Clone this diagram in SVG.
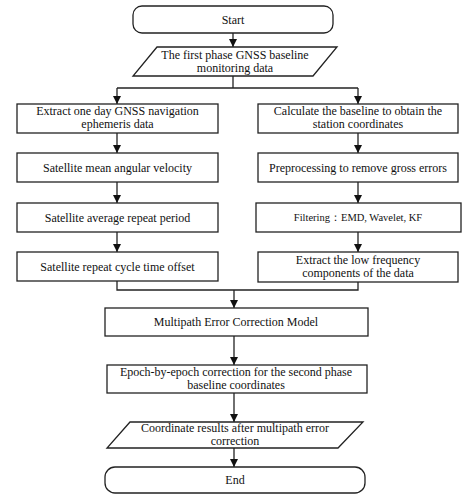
<svg xmlns="http://www.w3.org/2000/svg" width="475" height="500" viewBox="0 0 475 500">
<style>
.b{fill:#fff;stroke:#222;stroke-width:1.3}
.t{font-family:"Liberation Serif","Times New Roman",serif;font-size:12px;fill:#111;text-anchor:middle}
.c{fill:none;stroke:#222;stroke-width:1.3}
</style>
<defs>
<marker id="ah" markerUnits="userSpaceOnUse" markerWidth="8" markerHeight="8" viewBox="0 0 8 8" refX="8" refY="4" orient="auto">
<path d="M0,0 L8,4 L0,8 z" fill="#111"/>
</marker>
</defs>
<rect width="475" height="500" fill="#fff"/>
<g id="connectors">
<line class="c" x1="233" y1="33" x2="233" y2="47" marker-end="url(#ah)"/>
<polyline class="c" points="233,76 233,88"/>
<polyline class="c" points="117,88 358,88"/>
<line class="c" x1="117" y1="88" x2="117" y2="104" marker-end="url(#ah)"/>
<line class="c" x1="358" y1="88" x2="358" y2="104" marker-end="url(#ah)"/>
<line class="c" x1="117" y1="133" x2="117" y2="153" marker-end="url(#ah)"/>
<line class="c" x1="117" y1="182" x2="117" y2="203" marker-end="url(#ah)"/>
<line class="c" x1="117" y1="232" x2="117" y2="252" marker-end="url(#ah)"/>
<line class="c" x1="358" y1="133" x2="358" y2="153" marker-end="url(#ah)"/>
<line class="c" x1="358" y1="182" x2="358" y2="203" marker-end="url(#ah)"/>
<line class="c" x1="358" y1="232" x2="358" y2="252" marker-end="url(#ah)"/>
<polyline class="c" points="117,281 117,290 358,290 358,282"/>
<line class="c" x1="234" y1="290" x2="234" y2="308" marker-end="url(#ah)"/>
<line class="c" x1="234" y1="336" x2="234" y2="365" marker-end="url(#ah)"/>
<line class="c" x1="234" y1="393" x2="234" y2="422" marker-end="url(#ah)"/>
<line class="c" x1="234" y1="448" x2="234" y2="467" marker-end="url(#ah)"/>
</g>
<g id="start">
<rect class="b" x="133" y="6" width="200" height="27" rx="9"/>
<text class="t" x="233" y="23.5">Start</text>
</g>
<g id="input1">
<polygon class="b" points="157,47 337,47 313,76 133,76"/>
<text class="t" x="235" y="59">The first phase GNSS baseline</text>
<text class="t" x="235" y="72">monitoring data</text>
</g>
<g id="l1">
<rect class="b" x="17" y="104" width="201" height="29"/>
<text class="t" x="117.5" y="115">Extract one day GNSS navigation</text>
<text class="t" x="117.5" y="128">ephemeris data</text>
</g>
<g id="l2">
<rect class="b" x="17" y="153" width="201" height="29"/>
<text class="t" x="117.5" y="171.5">Satellite mean angular velocity</text>
</g>
<g id="l3">
<rect class="b" x="17" y="203" width="201" height="29"/>
<text class="t" x="117.5" y="221.5">Satellite average repeat period</text>
</g>
<g id="l4">
<rect class="b" x="17" y="252" width="201" height="29"/>
<text class="t" x="117.5" y="270.5">Satellite repeat cycle time offset</text>
</g>
<g id="r1">
<rect class="b" x="258" y="104" width="200" height="29"/>
<text class="t" x="358" y="115">Calculate the baseline to obtain the</text>
<text class="t" x="358" y="128">station coordinates</text>
</g>
<g id="r2">
<rect class="b" x="258" y="153" width="200" height="29"/>
<text class="t" x="358" y="171.5">Preprocessing to remove gross errors</text>
</g>
<g id="r3">
<rect class="b" x="256" y="203" width="205" height="29"/>
<text class="t" x="358" y="221" style="font-size:10.5px">Filtering：EMD, Wavelet, KF</text>
</g>
<g id="r4">
<rect class="b" x="258" y="252" width="200" height="30"/>
<text class="t" x="358" y="264">Extract the low frequency</text>
<text class="t" x="358" y="277">components of the data</text>
</g>
<g id="model">
<rect class="b" x="105" y="308" width="263" height="28"/>
<text class="t" x="236" y="326">Multipath Error Correction Model</text>
</g>
<g id="epoch">
<rect class="b" x="107" y="365" width="260" height="28"/>
<text class="t" x="236" y="376">Epoch-by-epoch correction for the second phase</text>
<text class="t" x="236" y="389">baseline coordinates</text>
</g>
<g id="output">
<polygon class="b" points="130,422 363,422 338,448 107,448"/>
<text class="t" x="235" y="432">Coordinate results after multipath error</text>
<text class="t" x="235" y="445">correction</text>
</g>
<g id="end">
<rect class="b" x="105" y="467" width="260" height="26" rx="10"/>
<text class="t" x="235" y="484">End</text>
</g>
</svg>
